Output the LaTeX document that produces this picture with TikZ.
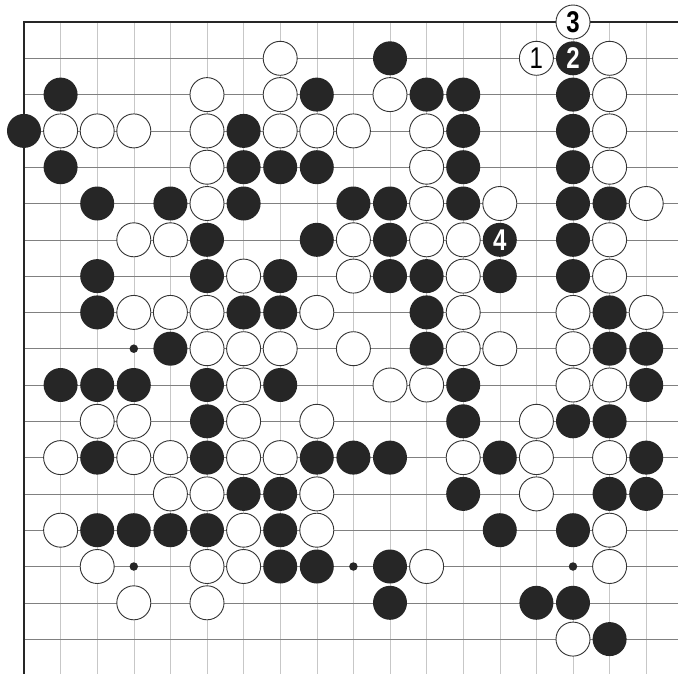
\documentclass[tikz,border=0pt]{standalone}
\usepackage{fontspec}
\newfontfamily\numfont[FakeStretch=0.8]{Liberation Sans}
\begin{document}
\begin{tikzpicture}[x=36.6pt,y=-36.3pt,
  wst/.style={circle,draw=black!80,line width=0.9pt,fill=white,minimum size=34pt,inner sep=0pt},
  bst/.style={circle,fill=black!85,minimum size=34pt,inner sep=0pt},
  hoshi/.style={circle,fill=black!85,minimum size=8.5pt,inner sep=0pt},
  hline/.style={black!50,line width=0.6pt},
  vline/.style={black!22,line width=0.5pt},
  edgeline/.style={black!85,line width=1.6pt},
  num/.style={font=\numfont\bfseries\fontsize{30}{30}\selectfont},
  numlight/.style={font=\numfont\fontsize{30}{30}\selectfont}]
\useasboundingbox (-24pt,22pt) rectangle (654pt,-651pt);
\begin{scope}
\clip (-24pt,22pt) rectangle (654pt,-651pt);
\foreach \c in {1,...,18} \draw[vline] (\c,0) -- (\c,19);
\foreach \r in {1,...,18} \draw[hline] (0,\r) -- (19,\r);
\draw[edgeline] (19,0) -- (0,0) -- (0,19);
\end{scope}
% star points
\foreach \c/\r in {3/9,3/15,9/15,15/15}
  \node[hoshi] (h-\c-\r) at (\c,\r) {};
% black stones
\foreach \c/\r in {10/1,
  1/2,8/2,11/2,12/2,15/2,
  0/3,6/3,12/3,15/3,
  1/4,6/4,7/4,8/4,12/4,15/4,
  2/5,4/5,6/5,9/5,10/5,12/5,15/5,16/5,
  5/6,8/6,10/6,15/6,
  2/7,5/7,7/7,10/7,11/7,13/7,15/7,
  2/8,6/8,7/8,11/8,16/8,
  4/9,11/9,16/9,17/9,
  1/10,2/10,3/10,5/10,7/10,12/10,17/10,
  5/11,12/11,15/11,16/11,
  2/12,5/12,8/12,9/12,10/12,13/12,17/12,
  6/13,7/13,12/13,16/13,17/13,
  2/14,3/14,4/14,5/14,7/14,13/14,15/14,
  7/15,8/15,10/15,
  10/16,14/16,15/16,
  16/17}
  \node[bst] (b-\c-\r) at (\c,\r) {};
% white stones
\foreach \c/\r in {7/1,16/1,
  5/2,7/2,10/2,16/2,
  1/3,2/3,3/3,5/3,7/3,8/3,9/3,11/3,16/3,
  5/4,11/4,16/4,
  5/5,11/5,13/5,17/5,
  3/6,4/6,9/6,11/6,12/6,16/6,
  6/7,9/7,12/7,16/7,
  3/8,4/8,5/8,8/8,12/8,15/8,17/8,
  5/9,6/9,7/9,9/9,12/9,13/9,15/9,
  6/10,10/10,11/10,15/10,16/10,
  2/11,3/11,6/11,8/11,14/11,
  1/12,3/12,4/12,6/12,7/12,12/12,14/12,16/12,
  4/13,5/13,8/13,14/13,
  1/14,6/14,8/14,16/14,
  2/15,5/15,6/15,11/15,16/15,
  3/16,5/16,
  15/17}
  \node[wst] (w-\c-\r) at (\c,\r) {};
% numbered moves
\node[wst,numlight] (m1) at (14,1) {1};
\node[bst,num,text=white] (m2) at (15,1) {2};
\node[wst,num] (m3) at (15,0) {3};
\node[bst,num,text=white] (m4) at (13,6) {4};
\end{tikzpicture}
\end{document}
